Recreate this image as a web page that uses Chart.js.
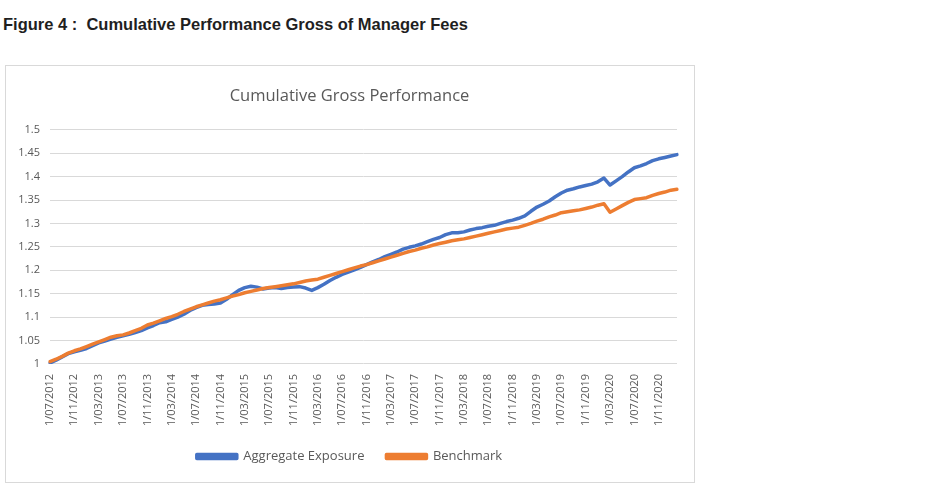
<!DOCTYPE html>
<html>
<head>
<meta charset="utf-8">
<script src="https://cdn.jsdelivr.net/npm/chart.js@4.4.0/dist/chart.umd.min.js"></script>
<style>
  body { margin: 0; background: #fff; width: 940px; height: 501px; position: relative; overflow: hidden; }
  #fig { position: absolute; left: 3px; top: 15px; font: bold 16.5px "Liberation Sans", Arial, sans-serif; color: #1f1f1f; white-space: pre; }
  #box { position: absolute; left: 5px; top: 65px; width: 688px; height: 416px; border: 1px solid #d9d9d9; }
</style>
</head>
<body>
<div id="fig">Figure 4 :  Cumulative Performance Gross of Manager Fees</div>
<div id="box"><canvas id="myChart" width="688" height="416"></canvas></div>
<script>
// monthly values, Jul 2012 - Feb 2021
var aggregateExposure = [
  1.002, 1.008, 1.015, 1.022, 1.026, 1.029, 1.033, 1.039, 1.045, 1.049, 1.053, 1.057,
  1.060, 1.063, 1.067, 1.071, 1.077, 1.082, 1.088, 1.090, 1.095, 1.100, 1.106, 1.114,
  1.120, 1.125, 1.127, 1.128, 1.130, 1.138, 1.148, 1.157, 1.163, 1.166, 1.164, 1.160,
  1.162, 1.163, 1.161, 1.163, 1.164, 1.165, 1.162, 1.157, 1.163, 1.170, 1.178, 1.185,
  1.191, 1.196, 1.201, 1.206, 1.212, 1.218, 1.223, 1.229, 1.234, 1.239, 1.245, 1.249,
  1.252, 1.256, 1.261, 1.266, 1.270, 1.276, 1.280, 1.280, 1.282, 1.286, 1.289, 1.291,
  1.294, 1.296, 1.300, 1.304, 1.307, 1.311, 1.316, 1.326, 1.335, 1.341, 1.348, 1.357,
  1.365, 1.371, 1.374, 1.378, 1.381, 1.384, 1.389, 1.397, 1.382, 1.391, 1.400, 1.410,
  1.419, 1.423, 1.428, 1.434, 1.438, 1.441, 1.444, 1.447
];
var benchmark = [
  1.005, 1.010, 1.016, 1.023, 1.028, 1.032, 1.037, 1.042, 1.047, 1.052, 1.057, 1.060,
  1.062, 1.066, 1.071, 1.076, 1.083, 1.087, 1.092, 1.097, 1.101, 1.106, 1.112, 1.117,
  1.122, 1.126, 1.130, 1.134, 1.137, 1.141, 1.145, 1.148, 1.152, 1.155, 1.158, 1.161,
  1.163, 1.165, 1.167, 1.169, 1.171, 1.174, 1.177, 1.179, 1.181, 1.185, 1.189, 1.193,
  1.197, 1.201, 1.205, 1.209, 1.212, 1.216, 1.220, 1.224, 1.228, 1.232, 1.236, 1.240,
  1.243, 1.247, 1.250, 1.254, 1.257, 1.260, 1.263, 1.265, 1.267, 1.270, 1.273, 1.276,
  1.279, 1.282, 1.285, 1.288, 1.290, 1.292, 1.296, 1.300, 1.305, 1.309, 1.314, 1.318,
  1.323, 1.325, 1.327, 1.329, 1.332, 1.335, 1.339, 1.342, 1.324, 1.331, 1.338, 1.345,
  1.351, 1.353, 1.355, 1.360, 1.364, 1.367, 1.371, 1.373
];
var seriesNames = ['Aggregate Exposure', 'Benchmark'];

// month labels like 1/07/2012
var months = [];
for (var y = 2012, m = 7; months.length < aggregateExposure.length; m++) {
    if (m > 12) { m = 1; y++; }
    months.push('1/' + (m < 10 ? '0' + m : m) + '/' + y);
}

var grey = '#595959';

// title and legend are centred on the whole box, not on the padded area
var centreBoxes = {
    id: 'centreBoxes',
    afterLayout: function (chart) {
        [chart.titleBlock, chart.legend].forEach(function (b) {
            if (b) { b.left += 8; b.right += 8; }
        });
    }
};

var ctx = document.getElementById('myChart');
var myChart = new Chart(ctx, {
    type: 'line',
    data: {
        labels: months,
        datasets: [{
            label: seriesNames[0],
            data: aggregateExposure,
            borderColor: '#4472C4',
            backgroundColor: '#4472C4',
            borderWidth: 3.5,
            pointRadius: 0,
            borderJoinStyle: 'round',
            borderCapStyle: 'round',
            order: 1
        }, {
            label: seriesNames[1],
            data: benchmark,
            borderColor: '#ED7D31',
            backgroundColor: '#ED7D31',
            borderWidth: 3.5,
            pointRadius: 0,
            borderJoinStyle: 'round',
            borderCapStyle: 'round',
            order: 0
        }]
    },
    plugins: [centreBoxes],
    options: {
        responsive: false,
        animation: false,
        layout: { padding: { left: 0, right: 17, top: 0, bottom: 9 } },
        plugins: {
            title: {
                display: true,
                text: 'Cumulative Gross Performance',
                color: grey,
                font: { family: 'Open Sans', size: 16.5, weight: 'normal' },
                padding: { top: 20, bottom: 24 }
            },
            legend: {
                position: 'bottom',
                labels: {
                    color: grey,
                    font: { family: 'Open Sans', size: 13 },
                    boxWidth: 40,
                    boxHeight: 4,
                    padding: 22,
                    sort: function (a, b) { return a.datasetIndex - b.datasetIndex; }
                }
            },
            tooltip: { enabled: false }
        },
        scales: {
            x: {
                offset: false,
                grid: { display: false },
                border: { display: false },
                ticks: {
                    color: grey,
                    font: { family: 'Open Sans', size: 11 },
                    autoSkip: false,
                    minRotation: 90,
                    maxRotation: 90,
                    padding: 2,
                    callback: function (value, index) {
                        return index % 4 === 0 ? this.getLabelForValue(value) : '';
                    }
                }
            },
            y: {
                min: 1,
                max: 1.5,
                grid: { color: '#d9d9d9', drawTicks: false },
                border: { display: false },
                afterFit: function (scale) { scale.width = 44; },
                ticks: {
                    stepSize: 0.05,
                    color: grey,
                    font: { family: 'Open Sans', size: 11 },
                    padding: 10,
                    callback: function (value) { return +value.toFixed(2); }
                }
            }
        }
    }
});
</script>
</body>
</html>
